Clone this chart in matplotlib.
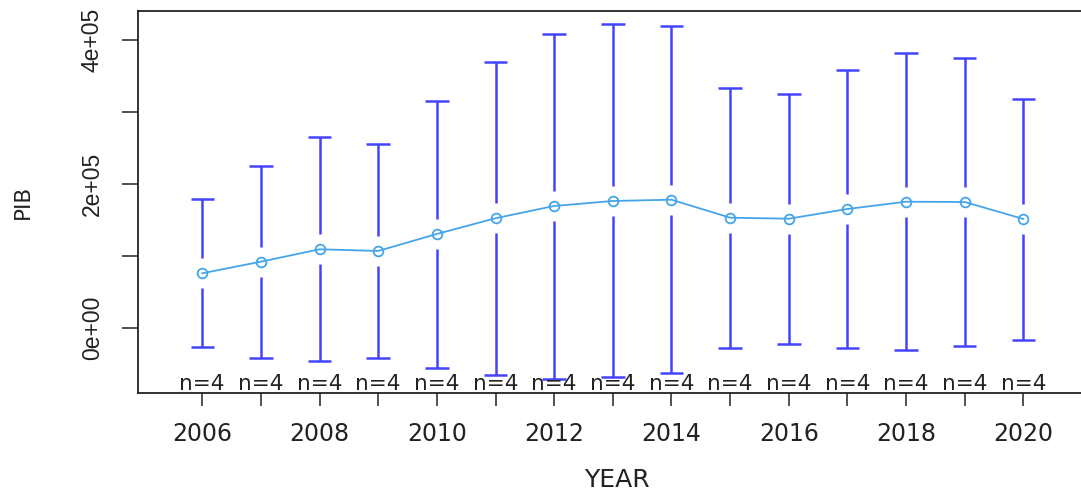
import numpy as np
import matplotlib
matplotlib.use('Agg')
import matplotlib.pyplot as plt
import matplotlib.transforms as mtransforms

# dados (media e limites do IC por ano)
anos = [2006, 2007, 2008, 2009, 2010, 2011, 2012, 2013, 2014,
        2015, 2016, 2017, 2018, 2019, 2020]
pib_media = [76400, 92500, 109700, 107400, 131000, 152800, 169900, 176800,
             178600, 153600, 152200, 165700, 175800, 175400, 151800]
pib_sup = [179200, 225800, 265700, 256400, 316100, 369900, 409200, 422200,
           420300, 333300, 325000, 358300, 382400, 375000, 318900]
pib_inf = [-26000, -40800, -45800, -40800, -54700, -64400, -70400, -67600,
           -61600, -26900, -21400, -26900, -30600, -25000, -15800]
n_obs = [4] * 15

y_ticks = [0, 100000, 200000, 300000, 400000]
y_labels = ['0e+00', '', '2e+05', '', '4e+05']

cor_ic = '#4444ff'
cor_media = '#45a5e8'
cor_txt = '#222222'

fig = plt.figure(figsize=(10.81, 4.91), dpi=100)
ax = fig.add_axes([0.1274, 0.1990, 0.879, 0.7792])
ax.set_xlim(2004.9, 2021.1)
ax.set_ylim(-90300, 441100)

x = np.array(anos, dtype=float)
m = np.array(pib_media, dtype=float)
lo = np.array(pib_inf, dtype=float)
hi = np.array(pib_sup, dtype=float)

# gap em torno da media (em pixels -> unidades de dados)
alt_px = 0.7792 * 491
gap = 15 * (441100 + 90300) / alt_px

ax.vlines(x, m + gap, hi, color=cor_ic, lw=1.8)
ax.vlines(x, lo, m - gap, color=cor_ic, lw=1.8)
ax.hlines(hi, x - 0.2, x + 0.2, color=cor_ic, lw=1.8)
ax.hlines(lo, x - 0.2, x + 0.2, color=cor_ic, lw=1.8)

ax.plot(x, m, color=cor_media, lw=1.3, marker='o', markersize=7,
        markerfacecolor='none', markeredgecolor=cor_media, markeredgewidth=1.3)

# rotulos n=
trans = mtransforms.blended_transform_factory(ax.transData, ax.transAxes)
for xi, n in zip(anos, n_obs):
    ax.text(xi, 0.009, 'n=%d' % n, transform=trans, ha='center', va='baseline',
            fontsize=15.5, color=cor_txt, family='DejaVu Sans')

ax.set_xticks(anos)
ax.set_xticklabels([str(a) if a % 2 == 0 else '' for a in anos],
                   fontsize=17, color=cor_txt, family='DejaVu Sans')
ax.set_yticks(y_ticks)
ax.set_yticklabels(y_labels, rotation=90, va='center', fontsize=16.5,
                   color=cor_txt, family='Liberation Sans')
ax.tick_params(axis='x', length=9.4, width=1.2, color='#333333', pad=11)
ax.tick_params(axis='y', length=11.5, width=1.2, color='#333333', pad=13)

for s in ['top', 'left', 'bottom']:
    ax.spines[s].set_color('#222222')
    ax.spines[s].set_linewidth(1.3)
ax.spines['right'].set_visible(False)

fig.text(23 / 1081, 1 - 202 / 491, 'PIB', rotation=90, ha='center', va='center',
         fontsize=15.5, color=cor_txt, family='DejaVu Sans')
fig.text(617 / 1081, 1 - 480 / 491, 'YEAR', ha='center', va='center',
         fontsize=18, color=cor_txt, family='DejaVu Sans')

fig.savefig('out.png', dpi=100)
